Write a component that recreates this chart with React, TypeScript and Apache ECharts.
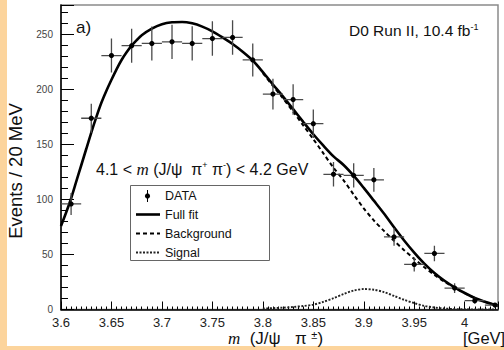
import React, { useEffect, useRef } from 'react';
import * as echarts from 'echarts';

// ---- data ----
const binCenters = [3.61, 3.63, 3.65, 3.67, 3.69, 3.71, 3.73, 3.75, 3.77, 3.79, 3.81, 3.83, 3.85, 3.87, 3.89, 3.91, 3.93, 3.95, 3.97, 3.99, 4.01, 4.03];
const counts = [96, 174, 231, 240, 242, 243.5, 242, 246.5, 247.5, 227, 196, 191, 169, 123, 122, 118, 66, 41, 51, 19.5, 8, 4];
const countErrors = [10, 13.2, 15.5, 15.5, 15.5, 15.6, 15.6, 15.7, 15.7, 15, 14, 13.8, 13, 11.1, 11, 10.8, 8.1, 6.4, 7.1, 4.4, 2.8, 2];
const binHalfWidth = 0.01;

const fitX = [3.600, 3.605, 3.610, 3.615, 3.620, 3.625, 3.630, 3.635, 3.640, 3.645, 3.650, 3.655, 3.660, 3.665, 3.670, 3.675, 3.680, 3.690, 3.700, 3.710, 3.720, 3.730, 3.740, 3.750, 3.760, 3.770, 3.780, 3.790, 3.800, 3.810, 3.820, 3.830, 3.840, 3.850, 3.860, 3.870, 3.880, 3.890, 3.900, 3.910, 3.920, 3.930, 3.940, 3.950, 3.960, 3.970, 3.980, 3.990, 4.000, 4.010, 4.020, 4.030, 4.033];
const fitY = [76, 88, 101, 116, 131, 146, 161, 175, 188, 199, 209, 218.5, 227, 234, 240, 245, 249.5, 255.5, 259.5, 261.3, 261.6, 260.3, 257.3, 253, 247.5, 241.5, 234.5, 226.5, 216, 204.7, 193.7, 182.3, 170.7, 159.4, 149, 139.3, 131.5, 121.7, 110.6, 99, 87.3, 74.8, 62.8, 51.8, 41.8, 33.3, 26.2, 20.2, 15, 10.5, 7, 4.2, 3.6];

const bgX = [3.80, 3.81, 3.82, 3.83, 3.84, 3.85, 3.86, 3.87, 3.88, 3.89, 3.90, 3.91, 3.92, 3.93, 3.94, 3.95, 3.96, 3.97, 3.98, 3.99, 4.00, 4.01, 4.02, 4.03, 4.033];
const bgY = [215, 203.5, 192, 180, 167.5, 155, 142, 129, 117.5, 104.5, 92, 81, 71.5, 62.5, 54, 46, 38.5, 31.5, 25.3, 19.8, 14.8, 10.5, 7, 4.2, 3.6];

const sigX = [3.80, 3.81, 3.82, 3.83, 3.84, 3.85, 3.86, 3.87, 3.88, 3.89, 3.90, 3.91, 3.92, 3.93, 3.94, 3.95, 3.96, 3.97, 3.98, 3.99, 4.00, 4.01, 4.02, 4.03];
const sigY = [0.8, 1.2, 1.7, 2.3, 3.2, 4.4, 7, 10.3, 14, 17.2, 18.6, 18, 15.8, 12.3, 8.8, 5.8, 3.3, 1.8, 0.9, 0.4, 0.2, 0.1, 0, 0];

const xTickLabels = ['3.6', '3.65', '3.7', '3.75', '3.8', '3.85', '3.9', '3.95', '4'];
const yTickLabels = ['0', '50', '100', '150', '200', '250'];

const SANS = '"Liberation Sans", Arial, sans-serif';
const SERIF = '"Liberation Serif", "Times New Roman", serif';

export default function App() {
  const ref = useRef<HTMLDivElement>(null);

  useEffect(() => {
    if (!ref.current) return;
    const chart = echarts.init(ref.current, null, { renderer: 'svg' });

    const pts = binCenters.map((x, i) => [x, counts[i], countErrors[i]]);
    const zip = (xs: number[], ys: number[]) => xs.map((x, i) => [x, ys[i]]);

    const option: any = {
      animation: false,
      backgroundColor: '#ffffff',
      grid: {
        left: 61, top: 5, width: 437, height: 304.5,
        show: true, borderColor: '#8a8a8a', borderWidth: 1.5, backgroundColor: 'transparent',
      },
      xAxis: {
        type: 'value', min: 3.6, max: 4.033, interval: 0.05,
        axisLine: { show: true, onZero: false, lineStyle: { color: '#000', width: 1.5 } },
        axisTick: { show: true, inside: true, length: 8, lineStyle: { color: '#000', width: 1 } },
        minorTick: { show: true, splitNumber: 10, length: 3, lineStyle: { color: '#000', width: 1 } },
        splitLine: { show: false },
        axisLabel: {
          margin: 6, fontSize: 13, color: '#222', fontFamily: SANS,
          formatter: (v: number) => {
            const k = Math.round((v - 3.6) / 0.05);
            if (Math.abs(v - (3.6 + k * 0.05)) > 1e-6) return '';
            return xTickLabels[k] ?? '';
          },
        },
      },
      yAxis: {
        type: 'value', min: 0, max: 277, interval: 50,
        axisLine: { show: true, lineStyle: { color: '#000', width: 1.5 } },
        axisTick: { show: true, inside: true, length: 13, lineStyle: { color: '#000', width: 1 } },
        minorTick: { show: true, splitNumber: 5, length: 7, lineStyle: { color: '#000', width: 1 } },
        splitLine: { show: false },
        axisLabel: {
          margin: 8, fontSize: 10, color: '#444', fontFamily: SANS,
          formatter: (v: number) => {
            const k = Math.round(v / 50);
            if (Math.abs(v - k * 50) > 1e-6) return '';
            return yTickLabels[k] ?? '';
          },
        },
      },
      series: [
        {
          type: 'line', data: zip(sigX, sigY), showSymbol: false, smooth: 0.3,
          lineStyle: { color: '#222', width: 1.9, type: [2, 1.5] }, z: 2,
        },
        {
          type: 'line', data: zip(bgX, bgY), showSymbol: false, smooth: 0.3,
          lineStyle: { color: '#000', width: 2, type: [4, 3] }, z: 3,
        },
        {
          type: 'line', data: zip(fitX, fitY), showSymbol: false, smooth: 0.3,
          lineStyle: { color: '#000', width: 2.6 }, z: 4,
        },
        {
          type: 'custom', data: pts, clip: true, z: 5,
          renderItem: (_p: any, api: any) => {
            const x = api.value(0), y = api.value(1), e = api.value(2);
            const c = api.coord([x, y]);
            const top = api.coord([x, y + e]);
            const bot = api.coord([x, Math.max(y - e, 0)]);
            const l = api.coord([x - binHalfWidth, y]);
            const r = api.coord([x + binHalfWidth, y]);
            const st = { stroke: '#4a4a4a', lineWidth: 1.3 };
            return {
              type: 'group',
              children: [
                { type: 'line', shape: { x1: c[0], y1: top[1], x2: c[0], y2: bot[1] }, style: st },
                { type: 'line', shape: { x1: l[0], y1: c[1], x2: r[0], y2: c[1] }, style: st },
                { type: 'circle', shape: { cx: c[0], cy: c[1], r: 2.6 }, style: { fill: '#000' } },
              ],
            };
          },
        },
      ],
      graphic: [
        { type: 'rect', shape: { x: 0, y: 0, width: 7, height: 350 }, style: { fill: '#fcd49c' }, silent: true },
        { type: 'rect', shape: { x: 0, y: 346, width: 504, height: 4 }, style: { fill: '#fcd49c' }, silent: true },
        {
          type: 'text', x: 15, y: 171, rotation: Math.PI / 2,
          style: { text: 'Events / 20 MeV', font: `18.5px ${SANS}`, fill: '#111', align: 'center', verticalAlign: 'middle' },
        },
        {
          type: 'text', x: 76, y: 27,
          style: { text: 'a)', font: `17px ${SANS}`, fill: '#111', align: 'left', verticalAlign: 'middle' },
        },
        {
          type: 'text', x: 349, y: 30,
          style: {
            text: 'D0 Run II, 10.4 fb{sup|-1}', font: `15.5px ${SANS}`, fill: '#111', align: 'left', verticalAlign: 'middle',
            rich: { sup: { fontSize: 9, fontFamily: SANS, fill: '#111', verticalAlign: 'top', lineHeight: 10 } },
          },
        },
        {
          type: 'text', x: 96, y: 169,
          style: {
            text: '4.1 < {i|m} (J/ψ  π{sup|+} π{sup|-}) < 4.2 GeV', font: `16px ${SANS}`, fill: '#111', align: 'left', verticalAlign: 'middle',
            rich: {
              i: { fontSize: 17, fontFamily: SERIF, fontStyle: 'italic', fill: '#111' },
              sup: { fontSize: 9, fontFamily: SANS, fill: '#111', verticalAlign: 'top', lineHeight: 10 },
            },
          },
        },
        {
          type: 'text', x: 228, y: 338,
          style: {
            text: '{i|m}  (J/ψ   π {sup|±})', font: `17px ${SANS}`, fill: '#111', align: 'left', verticalAlign: 'middle',
            rich: {
              i: { fontSize: 17, fontFamily: SERIF, fontStyle: 'italic', fill: '#111' },
              sup: { fontSize: 11, fontFamily: SANS, fill: '#111', verticalAlign: 'top', lineHeight: 12 },
            },
          },
        },
        {
          type: 'text', x: 463, y: 338,
          style: { text: '[GeV]', font: `16.5px ${SANS}`, fill: '#111', align: 'left', verticalAlign: 'middle' },
        },
        // legend box
        { type: 'rect', shape: { x: 130.5, y: 185.5, width: 139, height: 75 }, style: { fill: '#fff', stroke: '#666', lineWidth: 1 }, z: 10 },
        { type: 'line', shape: { x1: 147.5, y1: 190, x2: 147.5, y2: 202 }, style: { stroke: '#000', lineWidth: 1 }, z: 11 },
        { type: 'circle', shape: { cx: 147.5, cy: 196, r: 2.6 }, style: { fill: '#000' }, z: 11 },
        { type: 'line', shape: { x1: 136, y1: 214.5, x2: 160, y2: 214.5 }, style: { stroke: '#000', lineWidth: 2.6 }, z: 11 },
        { type: 'line', shape: { x1: 136, y1: 233.5, x2: 160, y2: 233.5 }, style: { stroke: '#000', lineWidth: 2, lineDash: [4, 3] }, z: 11 },
        { type: 'line', shape: { x1: 136, y1: 252.5, x2: 160, y2: 252.5 }, style: { stroke: '#222', lineWidth: 1.9, lineDash: [2, 1.5] }, z: 11 },
        { type: 'text', x: 165, y: 196, style: { text: 'DATA', font: `12.5px ${SANS}`, fill: '#111', verticalAlign: 'middle' }, z: 11 },
        { type: 'text', x: 165, y: 214.5, style: { text: 'Full fit', font: `12.5px ${SANS}`, fill: '#111', verticalAlign: 'middle' }, z: 11 },
        { type: 'text', x: 165, y: 233.5, style: { text: 'Background', font: `12.5px ${SANS}`, fill: '#111', verticalAlign: 'middle' }, z: 11 },
        { type: 'text', x: 165, y: 252.5, style: { text: 'Signal', font: `12.5px ${SANS}`, fill: '#111', verticalAlign: 'middle' }, z: 11 },
      ],
    };

    chart.setOption(option);
    return () => chart.dispose();
  }, []);

  return (
    <div style={{ position: 'fixed', left: 0, top: 0, width: 504, height: 350, background: '#fff' }}>
      <div ref={ref} style={{ width: 504, height: 350 }} />
    </div>
  );
}
